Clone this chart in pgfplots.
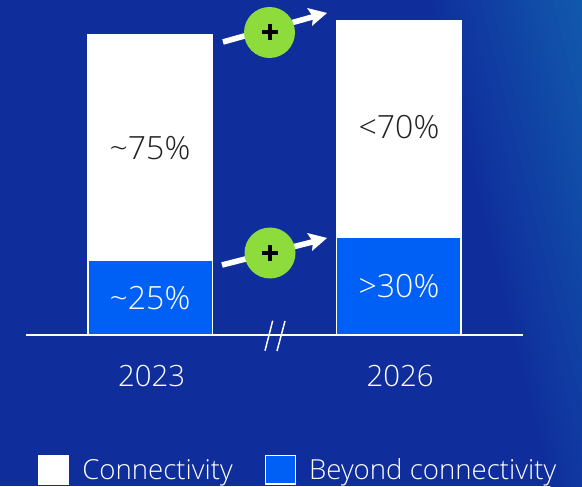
\documentclass[border=0pt]{standalone}
\usepackage{pgfplots}
\usepackage{pgfplotstable}
\usepackage{fontspec}
\pgfplotsset{compat=1.18}
\setmainfont{Open Sans}[UprightFont=* Light]
\definecolor{bgblue}{HTML}{0F2E9C}
\definecolor{bgedge}{HTML}{1159AD}
\definecolor{barblue}{HTML}{0060F5}
\definecolor{plusgreen}{HTML}{8EDB3C}
\definecolor{labeldark}{HTML}{222222}
\pgfplotstableread{
x beyond connectivity
0 25   75
1 32.7 72
}\sharetable
\begin{document}
\begin{tikzpicture}[x=0.75pt,y=0.75pt]
% canvas with the lighter sweep on the right, built from narrow tilted bands
\clip (0,0) rectangle (582,486);
\fill[bgblue] (0,0) rectangle (582,486);
\begin{scope}[rotate around={14:(500,243)}]
\foreach \i in {1,...,30}{
  \pgfmathsetmacro{\pct}{\i/30*100}
  \fill[bgedge!\pct!bgblue] ({485+5*\i},-300) rectangle (700,800);
}
\end{scope}
\begin{axis}[
  at={(19.5pt,113.25pt)},anchor=south west,
  scale only axis,width=372.75pt,height=236.25pt,
  xmin=-0.5,xmax=1.5,ymin=0,ymax=105,
  clip=false,
  ybar stacked,bar shift=0pt,bar width=93.2pt,
  axis y line=none,axis x line=bottom,
  axis line style={-,white,line width=1.1pt},
  xtick={0,1},xticklabels={2023,2026},
  major tick length=0pt,
  x tick label style={text=white,font=\fontsize{22}{22}\selectfont,yshift=-19pt,xshift=1pt},
  reverse legend,
  legend columns=2,
  legend cell align=left,
  legend style={at={(0.024,-0.476)},anchor=south west,fill=none,draw=none,
    inner sep=0pt,outer sep=0pt,
    font=\fontsize{20.7}{20.7}\selectfont,text=white,
    /tikz/every even column/.append style={column sep=22pt}},
  legend image code/.code={
    \path[draw=none,fill=none] (0pt,0pt) rectangle (30.75pt,0pt);
    \draw[#1,line width=1.1pt] (0pt,-10.5pt) rectangle (22.5pt,11pt);},
]
\addplot[fill=barblue,draw=white,line width=1.1pt] table[x=x,y=beyond] {\sharetable};
\addlegendentry{Beyond connectivity}
\addplot[fill=white,draw=white,line width=1.1pt] table[x=x,y=connectivity] {\sharetable};
\addlegendentry{Connectivity}
\end{axis}
% value labels on the bars
\node[text=labeldark,font=\fontsize{24}{24}\selectfont] at (150,338) {\textasciitilde 75\%};
\node[text=white,font=\fontsize{24}{24}\selectfont] at (150,188) {\textasciitilde 25\%};
\node[text=labeldark,font=\fontsize{24}{24}\selectfont] at (399,359) {<70\%};
\node[text=white,font=\fontsize{24}{24}\selectfont] at (399,200) {>30\%};
% axis break strokes
\draw[white,line width=1.1pt] (272.7,165.3) -- (265,135.3);
\draw[white,line width=1.1pt] (285,165) -- (277,135);
% growth arrows with green plus badges
\foreach \ax/\ay/\bx/\by/\cx/\cy in {223/444/327/473/269.5/453.5,222/221/327/248/270/233}{
  \draw[white,line width=4.2pt] (\ax,\ay) -- ({\bx-14},{\by-3.8});
  \fill[white] (\bx,\by) -- ({\bx-20},{\by+5}) -- ({\bx-14},{\by-3.8}) -- ({\bx-15},{\by-13}) -- cycle;
  \fill[plusgreen] (\cx,\cy) circle (25.5);
  \fill[black] ({\cx-8},{\cy-2}) rectangle ({\cx+8},{\cy+2});
  \fill[black] ({\cx-2},{\cy-8}) rectangle ({\cx+2},{\cy+8});
}
\end{tikzpicture}
\end{document}
